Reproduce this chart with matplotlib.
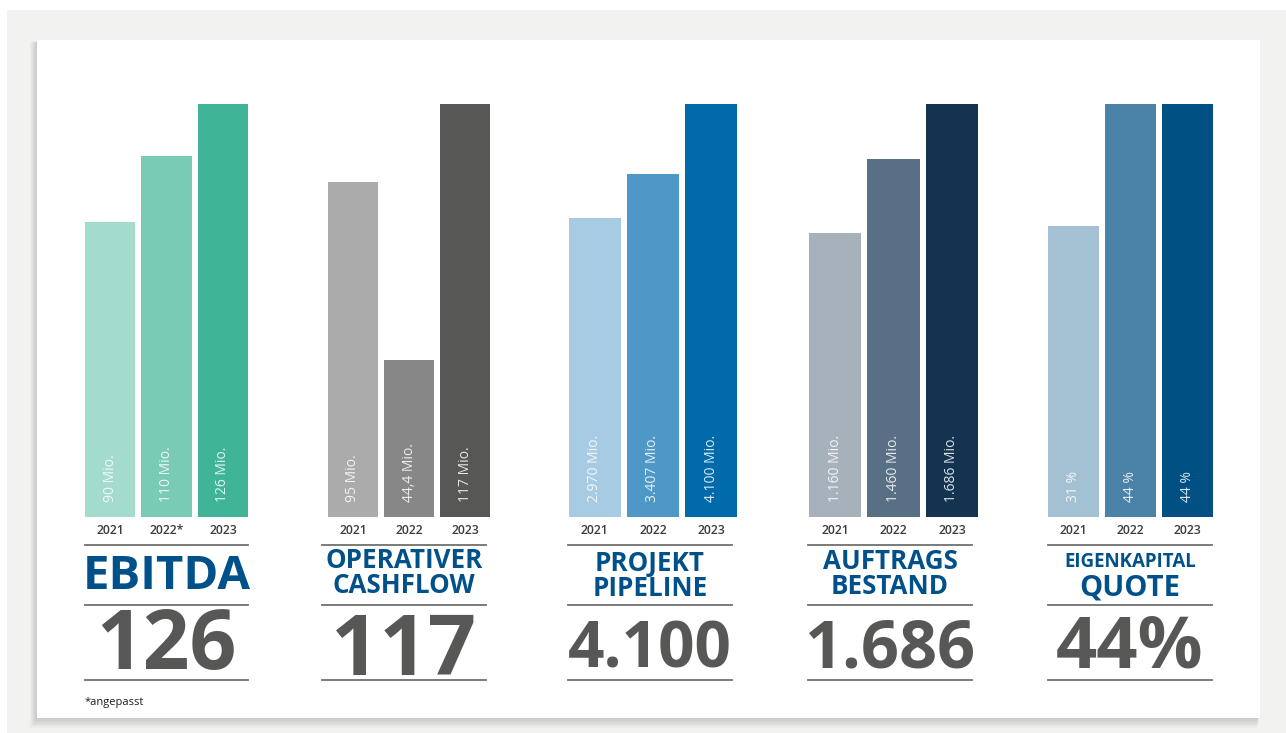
import matplotlib.pyplot as plt
from matplotlib.patches import Rectangle

plt.rcParams['font.family'] = ['Open Sans', 'DejaVu Sans']

years = ["2021", "2022", "2023"]

ebitda = [90, 110, 126]
cashflow = [95, 44.4, 117]
pipeline = [2970, 3407, 4100]
auftrag = [1160, 1460, 1686]
ek_quote = [31, 44, 44]

ebitda_lab = ["90 Mio.", "110 Mio.", "126 Mio."]
cashflow_lab = ["95 Mio.", "44,4 Mio.", "117 Mio."]
pipeline_lab = ["2.970 Mio.", "3.407 Mio.", "4.100 Mio."]
auftrag_lab = ["1.160 Mio.", "1.460 Mio.", "1.686 Mio."]
ek_lab = ["31 %", "44 %", "44 %"]

headline = ["126", "117", "4.100", "1.686", "44%"]

ebitda_col = ["#a3dbcd", "#7acbb6", "#3fb497"]
cashflow_col = ["#ababab", "#878787", "#575756"]
pipeline_col = ["#a7cbe3", "#4e98c7", "#006aab"]
auftrag_col = ["#a6b1bb", "#586f85", "#133350"]
ek_col = ["#a3c1d3", "#4b82a8", "#005083"]

groups = [
    (ebitda, ebitda_lab, ebitda_col, ["2021", "2022*", "2023"],
     [("EBITDA", 34, 589)], (headline[0], 59, 669)),
    (cashflow, cashflow_lab, cashflow_col, years,
     [("OPERATIVER\nCASHFLOW", 18.7, 593)], (headline[1], 61, 675)),
    (pipeline, pipeline_lab, pipeline_col, years,
     [("PROJEKT\nPIPELINE", 18.7, 596)], (headline[2], 46, 667)),
    (auftrag, auftrag_lab, auftrag_col, years,
     [("AUFTRAGS\nBESTAND", 18.7, 594)], (headline[3], 48, 668)),
    (ek_quote, ek_lab, ek_col, years,
     [("EIGENKAPITAL", 13.5, 567), ("QUOTE", 21, 595)], (headline[4], 52, 668)),
]

# layout in pixels: (left, width) of bar block and of the rules below
bar_box = [(85, 163), (328, 162), (569, 168), (809, 169), (1048, 165)]
rule_box = [(85, 163), (322, 164), (568, 164), (808, 164), (1048, 164)]

W, H = 1286, 733
fig = plt.figure(figsize=(W / 100, H / 100), dpi=100)
fig.patch.set_facecolor("white")

bg = fig.add_axes([0, 0, 1, 1])
bg.set_xlim(0, W)
bg.set_ylim(H, 0)
bg.axis("off")

# grey frame and card with soft shadow
bg.add_patch(Rectangle((7, 10), W - 7, H - 10, color="#f2f2f0", lw=0))
for k in range(1, 8):
    bg.add_patch(Rectangle((37 - k, 40 + 0.4 * k), 1223 + 0.6 * k, 678 + k,
                           color="black", alpha=0.025, lw=0))
bg.add_patch(Rectangle((37, 40), 1223, 678, color="white", lw=0))

blue = "#00508a"
grey = "#575756"

for g, (vals, labs, cols, yrs, title, big) in enumerate(groups):
    bx, bw = bar_box[g]
    ax = fig.add_axes([bx / W, (H - 517) / H, bw / W, 413 / H])
    ax.bar(range(3), vals, width=0.89, color=cols)
    ax.set_xlim(-0.445, 2.445)
    ax.set_ylim(0, max(vals))
    ax.axis("off")
    for i, lab in enumerate(labs):
        ax.annotate(lab, (i, 0), xytext=(0, 11), textcoords="offset points",
                    rotation=90, ha="center", va="bottom", color="white",
                    alpha=0.85, fontsize=10)
        ax.annotate(yrs[i], (i, 0), xytext=(0, -9.5), textcoords="offset points",
                    ha="center", va="center", color="#3c3c3b",
                    fontsize=8.8, fontweight="semibold", annotation_clip=False)

    rx, rw = rule_box[g]
    for y in (545, 605, 680):
        bg.plot([rx, rx + rw], [y, y], color="#6f6f6e", lw=1.3)

    cx = rx + rw / 2
    for txt, fs, base in title:
        bg.text(cx, base, txt, ha="center", va="baseline", fontsize=fs,
                fontweight="bold", color=blue, linespacing=0.89,
                multialignment="center")
    txt, fs, base = big
    bg.text(cx, base, txt, ha="center", va="baseline", fontsize=fs,
            fontweight="bold", color=grey)

bg.text(85, 705, "*angepasst", ha="left", va="baseline", fontsize=8,
        color="#1d1d1b")

fig.savefig("out.png", dpi=100)
